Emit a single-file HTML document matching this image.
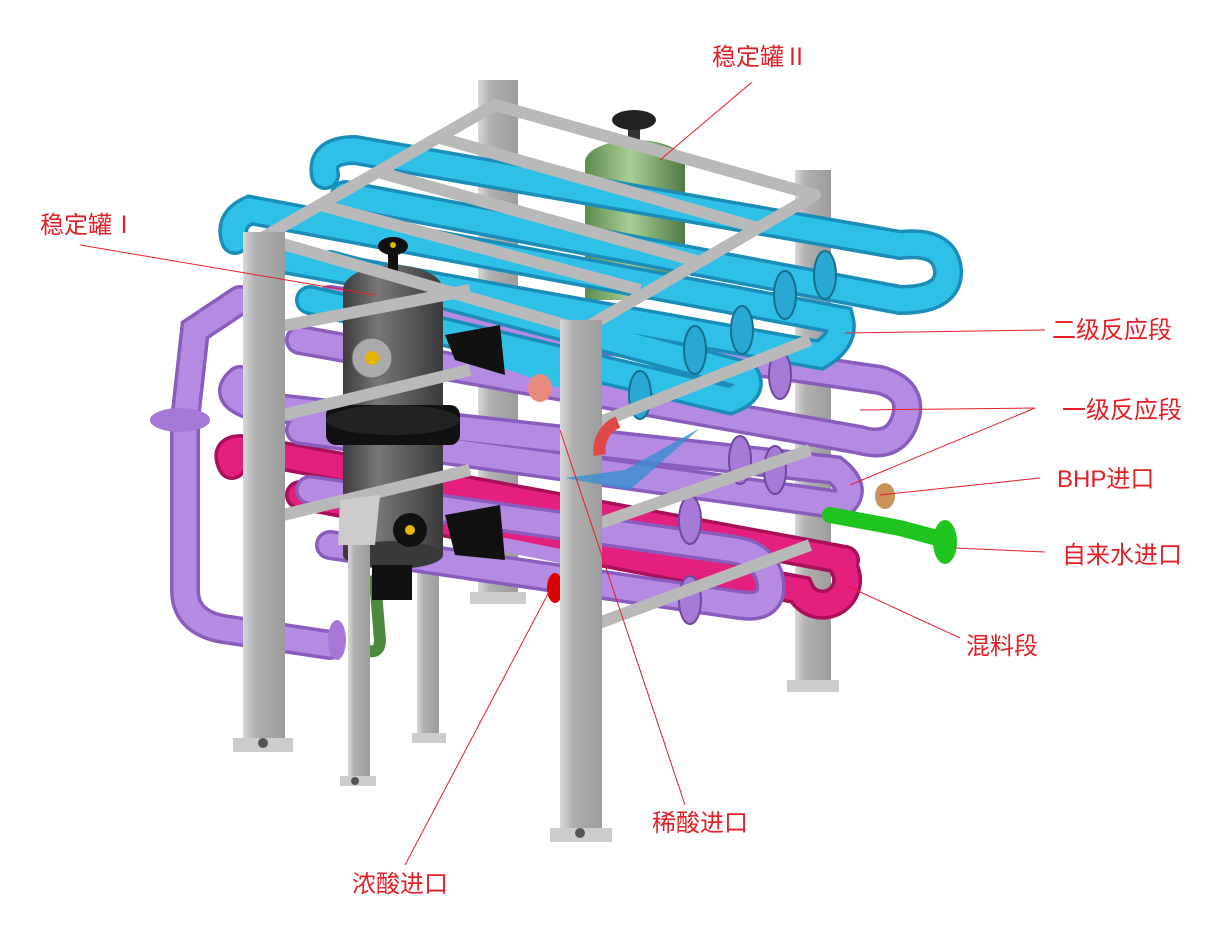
<!DOCTYPE html>
<html><head><meta charset="utf-8"><style>
html,body{margin:0;padding:0;background:#fff;width:1226px;height:933px;overflow:hidden}
svg{display:block}
text{font-family:"Liberation Sans","Noto Sans CJK SC",sans-serif;font-size:24px;fill:#e61e26}
</style></head><body>
<svg width="1226" height="933" viewBox="0 0 1226 933" xmlns="http://www.w3.org/2000/svg">
<defs>
<linearGradient id="post" x1="0" x2="1"><stop offset="0" stop-color="#d8d8d8"/><stop offset="0.3" stop-color="#b0b0b0"/><stop offset="1" stop-color="#9c9c9c"/></linearGradient>
<linearGradient id="tank" x1="0" x2="1"><stop offset="0" stop-color="#3c3c3c"/><stop offset="0.35" stop-color="#777"/><stop offset="1" stop-color="#3a3a3a"/></linearGradient>
<linearGradient id="gtank" x1="0" x2="1"><stop offset="0" stop-color="#5d8a4c"/><stop offset="0.45" stop-color="#a9cf95"/><stop offset="1" stop-color="#4f7a42"/></linearGradient>
</defs>

<rect x="478" y="80" width="40" height="520" fill="url(#post)"/>
<rect x="470" y="592" width="56" height="12" fill="#ccc"/>
<rect x="795" y="170" width="36" height="515" fill="url(#post)"/>
<rect x="787" y="680" width="52" height="12" fill="#ccc"/>
<rect x="417" y="440" width="22" height="300" fill="url(#post)"/>
<rect x="412" y="733" width="34" height="10" fill="#ccc"/>

<rect x="585" y="160" width="100" height="140" fill="url(#gtank)"/>
<ellipse cx="635" cy="162" rx="50" ry="22" fill="url(#gtank)"/>
<rect x="628" y="125" width="12" height="20" fill="#333"/>
<ellipse cx="634" cy="120" rx="22" ry="10" fill="#222"/>

<g fill="none" stroke-linecap="round">
<path d="M300,495 L800,590 A22,22 0 0 0 845,570 L840,560 M232,465 Q222,445 250,450 L845,560" stroke="#a8105a" stroke-width="30"/>
<path d="M300,495 L800,590 A22,22 0 0 0 845,570 L840,560 M232,465 Q222,445 250,450 L845,560" stroke="#e3207d" stroke-width="23"/>
<g stroke="#8a5cbd" stroke-width="30">
<path d="M330,300 L880,380 Q915,390 905,420 Q895,450 860,440 L300,340"/>
<path d="M240,380 Q222,395 250,405 L835,470 Q860,490 840,505 L300,430"/>
<path d="M330,545 L740,605 Q775,610 770,580 Q765,555 735,550 L310,490"/>
<path d="M185,420 L185,590 Q185,625 230,630 L330,645"/>
<path d="M240,300 L195,330 L185,420"/>
</g>
<g stroke="#b58ae3" stroke-width="23">
<path d="M330,300 L880,380 Q915,390 905,420 Q895,450 860,440 L300,340"/>
<path d="M240,380 Q222,395 250,405 L835,470 Q860,490 840,505 L300,430"/>
<path d="M330,545 L740,605 Q775,610 770,580 Q765,555 735,550 L310,490"/>
<path d="M185,420 L185,590 Q185,625 230,630 L330,645"/>
<path d="M240,300 L195,330 L185,420"/>
</g>
<g stroke="#1a8db8" stroke-width="30">
<path d="M345,195 L900,300 Q950,300 948,270 Q945,240 900,245 L355,150 Q320,150 325,175"/>
<path d="M260,255 L820,355 Q845,340 840,320 L250,210 Q228,220 235,240"/>
<path d="M310,300 L730,400 Q755,390 745,375 L330,265"/>
</g>
<g stroke="#2fc0e8" stroke-width="23">
<path d="M345,195 L900,300 Q950,300 948,270 Q945,240 900,245 L355,150 Q320,150 325,175"/>
<path d="M260,255 L820,355 Q845,340 840,320 L250,210 Q228,220 235,240"/>
<path d="M310,300 L730,400 Q755,390 745,375 L330,265"/>
</g>
<path d="M830,515 L900,528 L945,540" stroke="#1fc41f" stroke-width="16"/>
<path d="M375,580 L380,640 Q380,655 365,650" stroke="#4e8a3e" stroke-width="12"/>
<path d="M505,360 L560,380" stroke="#2fc0e8" stroke-width="16"/>
<path d="M505,545 L580,560" stroke="#b58ae3" stroke-width="14"/>
</g>
<ellipse cx="945" cy="542" rx="12" ry="22" fill="#1fc41f"/>
<ellipse cx="885" cy="496" rx="10" ry="13" fill="#c9925a"/>
<ellipse cx="540" cy="388" rx="12" ry="14" fill="#e88a80"/>
<ellipse cx="555" cy="588" rx="8" ry="15" fill="#d00"/>
<ellipse cx="180" cy="420" rx="30" ry="12" fill="#a777d8"/>
<ellipse cx="337" cy="640" rx="9" ry="20" fill="#a777d8"/>
<g fill="#2aa8d4" stroke="#157090" stroke-width="2">
<ellipse cx="825" cy="275" rx="11" ry="24"/><ellipse cx="785" cy="295" rx="11" ry="24"/>
<ellipse cx="742" cy="330" rx="11" ry="24"/><ellipse cx="695" cy="350" rx="11" ry="24"/>
<ellipse cx="640" cy="395" rx="11" ry="24"/>
</g>
<g fill="#a67ad6" stroke="#70489e" stroke-width="2">
<ellipse cx="780" cy="375" rx="11" ry="24"/><ellipse cx="740" cy="460" rx="11" ry="24"/>
<ellipse cx="690" cy="520" rx="11" ry="24"/><ellipse cx="690" cy="600" rx="11" ry="24"/>
<ellipse cx="775" cy="470" rx="11" ry="24"/>
</g>

<rect x="343" y="290" width="100" height="265" fill="url(#tank)"/>
<ellipse cx="393" cy="290" rx="50" ry="25" fill="url(#tank)"/>
<ellipse cx="393" cy="555" rx="50" ry="14" fill="#3a3a3a"/>
<rect x="326" y="405" width="134" height="40" rx="10" fill="#111"/>
<ellipse cx="393" cy="420" rx="67" ry="15" fill="#222"/>
<circle cx="372" cy="358" r="20" fill="#aaa" stroke="#666"/><circle cx="372" cy="358" r="7" fill="#e5b400"/>
<circle cx="410" cy="530" r="17" fill="#111"/><circle cx="410" cy="530" r="5" fill="#e5b400"/>
<rect x="388" y="250" width="10" height="25" fill="#111"/>
<ellipse cx="393" cy="246" rx="15" ry="9" fill="#111"/><circle cx="393" cy="245" r="3" fill="#e5b400"/>
<rect x="372" y="565" width="40" height="35" fill="#111"/>
<path d="M445,335 L500,325 L505,375 L455,360Z" fill="#111"/>
<path d="M445,515 L500,505 L505,560 L455,555Z" fill="#111"/>

<g stroke="#b9b9b9" stroke-width="12" fill="none" stroke-linejoin="round">
<path d="M262,238 L495,105 L815,195 L582,330 Z"/>
<path d="M320,205 L640,290 M378,172 L700,262 M440,138 L758,228"/>
<path d="M262,330 L470,290 M262,420 L470,370 M262,520 L470,470"/>
<path d="M580,430 L810,340 M580,530 L810,450 M580,630 L810,545"/>
</g>
<rect x="243" y="232" width="42" height="515" fill="url(#post)"/>
<rect x="233" y="738" width="60" height="14" fill="#ccc"/>
<circle cx="263" cy="743" r="5" fill="#555"/>
<rect x="560" y="320" width="42" height="515" fill="url(#post)"/>
<rect x="550" y="828" width="62" height="14" fill="#ccc"/>
<circle cx="580" cy="833" r="5" fill="#555"/>
<rect x="348" y="505" width="22" height="280" fill="url(#post)"/>
<path d="M340,500 L380,495 L375,545 L338,545Z" fill="#ccc"/>
<rect x="340" y="776" width="36" height="10" fill="#ccc"/>
<circle cx="355" cy="781" r="4" fill="#555"/>
<path d="M600,455 A30,30 0 0 1 618,422" stroke="#e04848" stroke-width="12" fill="none"/>
<path d="M565,478 L625,470 L700,428 L630,490Z" fill="#3a8ed2" opacity="0.8"/>

<g stroke="#e61e26" stroke-width="1" fill="none">
<line x1="752" y1="82" x2="660" y2="160"/>
<line x1="80" y1="245" x2="375" y2="295"/>
<line x1="1045" y1="330" x2="845" y2="333"/>
<line x1="1035" y1="408" x2="860" y2="410"/>
<line x1="1035" y1="408" x2="850" y2="485"/>
<line x1="1040" y1="478" x2="880" y2="495"/>
<line x1="1045" y1="552" x2="955" y2="548"/>
<line x1="960" y1="638" x2="845" y2="585"/>
<line x1="685" y1="805" x2="560" y2="430"/>
<line x1="405" y1="865" x2="550" y2="590"/>
</g>
<text x="712" y="65">稳定罐Ⅱ</text>
<text x="40" y="233">稳定罐Ⅰ</text>
<text x="1052" y="338">二级反应段</text>
<text x="1062" y="418">一级反应段</text>
<text x="1057" y="487">BHP进口</text>
<text x="1062" y="563">自来水进口</text>
<text x="966" y="654">混料段</text>
<text x="652" y="831">稀酸进口</text>
<text x="352" y="892">浓酸进口</text>
</svg>
</body></html>
